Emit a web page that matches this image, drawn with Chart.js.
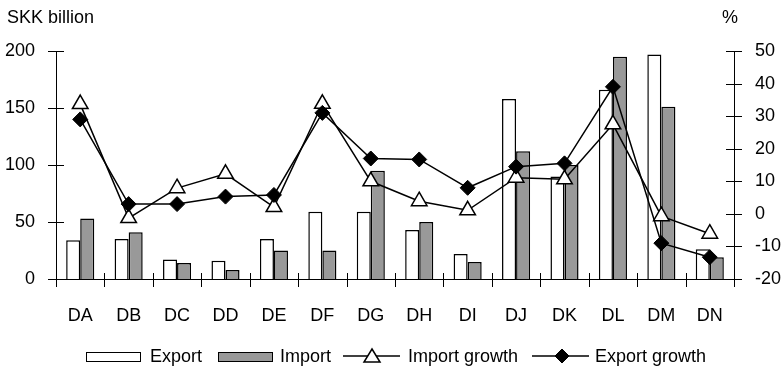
<!DOCTYPE html>
<html>
<head>
<meta charset="utf-8">
<script src="https://cdn.jsdelivr.net/npm/chart.js@4/dist/chart.umd.min.js"></script>
<style>
  body { margin: 0; background: #fff; }
  #wrap { position: relative; width: 784px; height: 370px; font-family: "Liberation Sans", Arial, sans-serif; color: #000; }
  #wrap canvas { position: absolute; left: 0; top: 0; }
  .unit { position: absolute; top: 6px; font-size: 18px; line-height: 22px; }
  .leg { position: absolute; font-size: 18px; line-height: 22px; top: 345px; }
  .swatch { position: absolute; top: 352px; height: 8px; width: 53px; border: 1px solid #000; }
  .legline { position: absolute; top: 346px; }
</style>
</head>
<body>
<div id="wrap">
  <canvas id="chart" width="784" height="370"></canvas>
  <div class="unit" style="left:7px;">SKK billion</div>
  <div class="unit" style="left:722px;">%</div>

  <div class="swatch" style="left:86px;background:#fff;"></div>
  <div class="leg" style="left:150px;">Export</div>
  <div class="swatch" style="left:218px;background:#999;"></div>
  <div class="leg" style="left:280px;">Import</div>
  <svg class="legline" style="left:343px;" width="58" height="20">
    <line x1="0" y1="10" x2="57" y2="10" stroke="#000" stroke-width="1.5"/>
    <polygon points="29,3 37,16 21,16" fill="#fff" stroke="#000" stroke-width="1.5"/>
  </svg>
  <div class="leg" style="left:408px;">Import growth</div>
  <svg class="legline" style="left:532px;" width="58" height="20">
    <line x1="0" y1="10" x2="57" y2="10" stroke="#000" stroke-width="1.5"/>
    <polygon points="30,3 37,10 30,17 23,10" fill="#000" stroke="#000" stroke-width="1"/>
  </svg>
  <div class="leg" style="left:595px;">Export growth</div>
</div>
<script>
var categories = ['DA', 'DB', 'DC', 'DD', 'DE', 'DF', 'DG', 'DH', 'DI', 'DJ', 'DK', 'DL', 'DM', 'DN'];
var exportVals = [34, 35, 17, 16, 35, 59, 59, 43, 22, 158, 90, 166, 197, 26];
var importVals = [53, 41, 14, 8, 25, 25, 95, 50, 15, 112, 100, 195, 151, 19];
var importGrowth = [33.7, -1.3, 7.9, 12.3, 2.1, 33.8, 10, 3.9, 1.1, 11.1, 10.6, 27.5, -0.7, -6.1];
var exportGrowth = [29, 3, 3, 5.3, 5.8, 31, 17, 16.7, 8, 14.5, 15.5, 39, -9, -13.3];

var FONT = { family: '"Liberation Sans", Arial, sans-serif', size: 18 };

// short tick marks that cross each axis line
var crossTicks = {
  id: 'crossTicks',
  afterDraw: function (chart) {
    var ctx = chart.ctx;
    var x = chart.scales.x, y = chart.scales.y, y1 = chart.scales.y1;
    ctx.save();
    ctx.strokeStyle = '#000';
    ctx.lineWidth = 1;
    ctx.beginPath();
    y.ticks.forEach(function (t) {
      var py = Math.round(y.getPixelForValue(t.value)) + 0.5;
      ctx.moveTo(x.left - 8, py); ctx.lineTo(x.left + 8, py);
    });
    y1.ticks.forEach(function (t) {
      var py = Math.round(y1.getPixelForValue(t.value)) + 0.5;
      ctx.moveTo(x.right - 8, py); ctx.lineTo(x.right + 8, py);
    });
    var step = (x.right - x.left) / categories.length;
    for (var i = 0; i <= categories.length; i++) {
      var px = Math.round(x.left + i * step) + 0.5;
      ctx.moveTo(px, x.top - 6); ctx.lineTo(px, x.top + 8);
    }
    ctx.stroke();
    ctx.restore();
  }
};

new Chart(document.getElementById('chart'), {
  data: {
    labels: categories,
    datasets: [
      {
        type: 'line', label: 'Export growth', data: exportGrowth, yAxisID: 'y1', order: 0,
        borderColor: '#000', borderWidth: 1.5, tension: 0,
        pointStyle: 'rectRot', pointRadius: 7.5, pointBackgroundColor: '#000',
        pointBorderColor: '#000', pointBorderWidth: 1, clip: false
      },
      {
        type: 'line', label: 'Import growth', data: importGrowth, yAxisID: 'y1', order: 1,
        borderColor: '#000', borderWidth: 1.5, tension: 0,
        pointStyle: 'triangle', pointRadius: 9, pointBackgroundColor: '#fff',
        pointBorderColor: '#000', pointBorderWidth: 1.5, clip: false
      },
      {
        type: 'bar', label: 'Export', data: exportVals, yAxisID: 'y', order: 2,
        backgroundColor: '#fff', borderColor: '#000', borderWidth: 1.5,
        categoryPercentage: 0.58, barPercentage: 1
      },
      {
        type: 'bar', label: 'Import', data: importVals, yAxisID: 'y', order: 3,
        backgroundColor: '#999', borderColor: '#000', borderWidth: 1.5,
        categoryPercentage: 0.58, barPercentage: 1
      }
    ]
  },
  options: {
    responsive: false,
    animation: false,
    layout: { padding: { top: 51, left: 0, right: 0, bottom: 0 } },
    plugins: { legend: { display: false }, tooltip: { enabled: false } },
    scales: {
      x: {
        offset: true,
        grid: { display: false },
        border: { display: true, color: '#000', width: 1 },
        ticks: { font: FONT, color: '#000', padding: 18, maxRotation: 0 },
        afterFit: function (s) { s.height = 91; }
      },
      y: {
        position: 'left', min: 0, max: 200,
        grid: { display: false },
        border: { display: true, color: '#000', width: 1 },
        ticks: { stepSize: 50, font: FONT, color: '#000', padding: 13 },
        afterFit: function (s) { s.width = 56; }
      },
      y1: {
        position: 'right', min: -20, max: 50,
        grid: { display: false },
        border: { display: true, color: '#000', width: 1 },
        ticks: { stepSize: 10, font: FONT, color: '#000', padding: 13 },
        afterFit: function (s) { s.width = 50; }
      }
    }
  },
  plugins: [crossTicks]
});
</script>
</body>
</html>
